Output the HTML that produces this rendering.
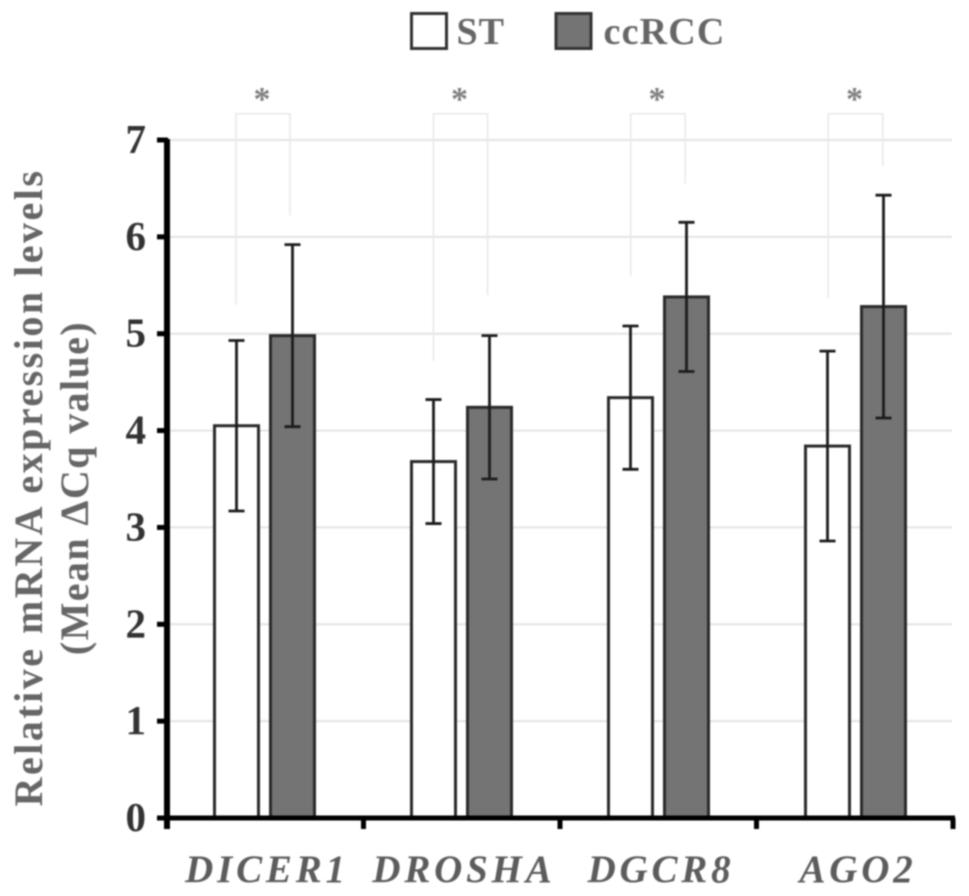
<!DOCTYPE html>
<html>
<head>
<meta charset="utf-8">
<title>Relative mRNA expression levels</title>
<style>
html,body{margin:0;padding:0;background:#fff;width:969px;height:896px;overflow:hidden}
svg{display:block;font-family:"Liberation Serif",serif;font-weight:bold}
</style>
</head>
<body>
<svg id="chart" width="969" height="896" viewBox="0 0 969 896" style="filter:blur(0.7px)">
  <g id="grid"></g>
  <g id="brackets"></g>
  <g id="bars"></g>
  <g id="axes"></g>
  <g>
    <rect x="411.5" y="13.5" width="35" height="35" fill="#fff" stroke="#333" stroke-width="3"/>
    <text x="456.5" y="44" font-size="38" letter-spacing="1" fill="#666">ST</text>
    <rect x="556" y="13.5" width="35" height="35" fill="#747474" stroke="#333" stroke-width="3"/>
    <text x="603.5" y="44" font-size="38" letter-spacing="1.2" fill="#666">ccRCC</text>
  </g>
  <text transform="translate(42,487.5) rotate(-90)" text-anchor="middle" font-size="40" letter-spacing="2.5" fill="#666">Relative mRNA expression levels</text>
  <text transform="translate(88,488) rotate(-90)" text-anchor="middle" font-size="40" letter-spacing="1.4" fill="#666">(Mean ΔCq value)</text>
</svg>
<script>
const categories = ['DICER1', 'DROSHA', 'DGCR8', 'AGO2'];
const stValues = [4.05, 3.68, 4.34, 3.84];
const ccrccValues = [4.98, 4.24, 5.38, 5.28];
const stErrors = [0.88, 0.64, 0.74, 0.98];
const ccrccErrors = [0.94, 0.74, 0.77, 1.15];
const bracketLeftEnds = [5.3, 4.72, 5.6, 5.37];
const bracketRightEnds = [6.22, 5.4, 6.55, 6.73];
const bracketTop = 7.27;
const significance = ['*', '*', '*', '*'];
const yTicks = [0, 1, 2, 3, 4, 5, 6, 7];

const NS = 'http://www.w3.org/2000/svg';
const yScale = function (v) { return 818 - v * (818 - 140) / 7; };
const groupLeft = function (i) { return 167 + i * 197; };
const tickX = function (i) { return 167 + i * 196.5; };
const stCenter = function (i) { return groupLeft(i) + 69.5; };
const ccCenter = function (i) { return groupLeft(i) + 125.5; };
const BAR_W = 44;

function make(parent, tag, props, text) {
  const el = document.createElementNS(NS, tag);
  for (const k in props) el.setAttribute(k, props[k]);
  if (text !== undefined) el.textContent = text;
  parent.appendChild(el);
  return el;
}
const gridG = document.getElementById('grid');
const bracketG = document.getElementById('brackets');
const barG = document.getElementById('bars');
const axisG = document.getElementById('axes');

yTicks.forEach(function (t) {
  if (t > 0) {
    const line = make(gridG, 'line', {x1: 170, x2: 952, y1: yScale(t), y2: yScale(t), stroke: '#e4e4e4', 'stroke-width': 2});
    
    
  }
});

categories.forEach(function (cat, i) {
  const xl = 236 + i * 197.4, xr = 290 + i * 197.6;
  const br = make(bracketG, 'path', {
    d: 'M' + xl + ' ' + yScale(bracketLeftEnds[i]) + 'V' + yScale(bracketTop) + 'H' + xr + 'V' + yScale(bracketRightEnds[i]),
    fill: 'none', stroke: '#e9e9e9', 'stroke-width': 1.6
  });
  
  
  const star = make(bracketG, 'text', {x: (xl + xr) / 2 - 1, y: 110, 'text-anchor': 'middle', 'font-size': 34, fill: '#808080'}, significance[i]);
  
  

  [[stCenter(i), stValues[i], stErrors[i], '#ffffff', 'st'],
   [ccCenter(i), ccrccValues[i], ccrccErrors[i], '#747474', 'ccrcc']].forEach(function (s) {
    const cx = s[0], v = s[1], e = s[2];
    const bar = make(barG, 'rect', {x: cx - BAR_W / 2, y: yScale(v), width: BAR_W, height: yScale(0) - yScale(v), fill: s[3], stroke: '#2a2a2a', 'stroke-width': 3});
    
    
    const err = make(barG, 'path', {
      d: 'M' + cx + ' ' + yScale(v + e) + 'V' + yScale(v - e) +
         'M' + (cx - 8) + ' ' + yScale(v + e) + 'H' + (cx + 8) +
         'M' + (cx - 8) + ' ' + yScale(v - e) + 'H' + (cx + 8),
      fill: 'none', stroke: '#1c1c1c', 'stroke-width': 2.8
    });
    
    
  });

  const label = make(axisG, 'text', {x: groupLeft(i) + 100, y: 882, 'text-anchor': 'middle', 'font-size': 39, 'font-style': 'italic', 'letter-spacing': 3.8, fill: '#5c5c5c'}, cat);
  
  
});

yTicks.forEach(function (t) {
  const tick = make(axisG, 'line', {x1: 157, x2: 168, y1: yScale(t), y2: yScale(t), stroke: '#000', 'stroke-width': 5});
  
  
  const lab = make(axisG, 'text', {x: 146, y: yScale(t) + 13, 'text-anchor': 'end', 'font-size': 41, fill: '#333'}, String(t));
  
  
});
categories.concat(['end']).forEach(function (c, i) {
  const tick = make(axisG, 'line', {x1: tickX(i), x2: tickX(i), y1: 818, y2: 829, stroke: '#000', 'stroke-width': 5});
  
  
});
const yAxis = make(axisG, 'line', {x1: 167, x2: 167, y1: 139, y2: 829, stroke: '#000', 'stroke-width': 6});


const xAxis = make(axisG, 'line', {x1: 157, x2: 955, y1: 818, y2: 818, stroke: '#000', 'stroke-width': 5});


</script>
</body>
</html>
